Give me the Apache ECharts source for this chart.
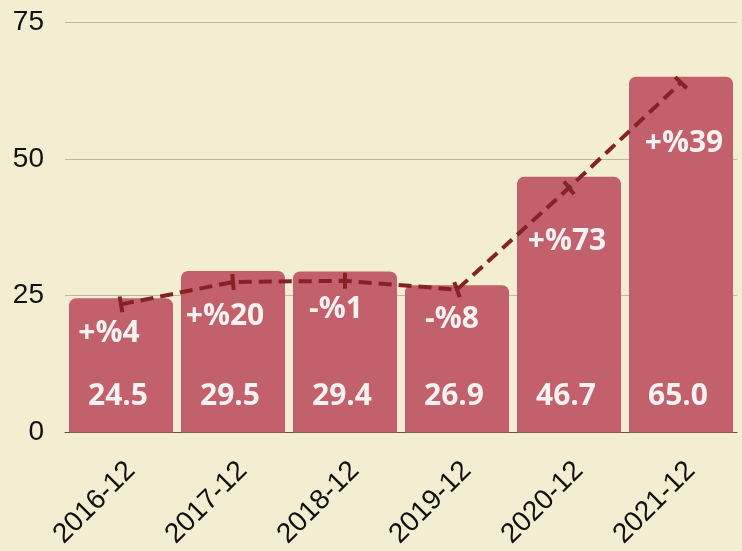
<!DOCTYPE html>
<html>
<head>
<meta charset="utf-8">
<script src="https://cdn.jsdelivr.net/npm/echarts@6/dist/echarts.min.js"></script>
<style>
html,body{margin:0;padding:0;background:#F3EDD2;}
#chart{width:742px;height:551px;}
</style>
</head>
<body>
<div id="chart"></div>
<script>
const categories = ['2016-12','2017-12','2018-12','2019-12','2020-12','2021-12'];
const barValues = [24.5, 29.5, 29.4, 26.9, 46.7, 65.0];
const lineValues = [23.4, 27.5, 27.7, 26.1, 44.7, 63.9];
const changeLabels = ['+%4','+%20','-%1','-%8','+%73','+%39'];
const yTicks = [0, 25, 50, 75];

// styling (not data)
const tickRotate = [10, 5, 0, 20, 38, 46];
const labelOffsets = [[-12,29],[-8,35],[-9,29],[-5,30],[-2,54],[3,61]];

const chart = echarts.init(document.getElementById('chart'));
const lineData = lineValues.map((v, i) => ({
  value: v,
  symbolRotate: tickRotate[i],
  label: { offset: labelOffsets[i], formatter: changeLabels[i] }
}));

chart.setOption({
  backgroundColor: '#F3EDD2',
  animation: false,
  grid: { left: 65, right: 5, top: 22, bottom: 118 },
  xAxis: {
    type: 'category',
    data: categories,
    axisTick: { show: false },
    axisLine: { show: true, lineStyle: { color: '#555555', width: 1 } },
    axisLabel: {
      rotate: 45, margin: 24, verticalAlign: 'top',
      fontFamily: 'Liberation Sans, Arial, sans-serif', fontSize: 28, color: '#111111'
    }
  },
  yAxis: {
    type: 'value', min: 0, max: 75, interval: 25,
    axisLine: { show: false }, axisTick: { show: false },
    splitLine: { lineStyle: { color: '#BDB7A0', width: 1 } },
    axisLabel: {
      margin: 21,
      fontFamily: 'Liberation Sans, Arial, sans-serif', fontSize: 28, color: '#111111',
      formatter: v => yTicks.includes(v) ? String(v) : ''
    }
  },
  series: [
    {
      type: 'bar',
      data: barValues,
      barCategoryGap: '7.1%',
      itemStyle: { color: '#C2606B', borderRadius: [7,7,0,0] },
      label: {
        show: true, position: 'insideBottom', distance: 21, offset: [-3, 0],
        formatter: p => p.value.toFixed(1),
        fontFamily: 'Open Sans, Noto Sans, sans-serif', fontWeight: 'bold',
        fontSize: 30, color: '#F7F2F2'
      },
      z: 1
    },
    {
      type: 'line',
      data: lineData,
      symbol: 'rect',
      symbolSize: [4, 16],
      showAllSymbol: true,
      lineStyle: { color: '#842226', width: 4, type: [13, 7] },
      itemStyle: { color: '#842226' },
      label: {
        show: true, position: 'inside',
        fontFamily: 'Open Sans, Noto Sans, sans-serif', fontWeight: 'bold',
        fontSize: 30, color: '#F7F2F2'
      },
      z: 3
    }
  ]
});
</script>
</body>
</html>
